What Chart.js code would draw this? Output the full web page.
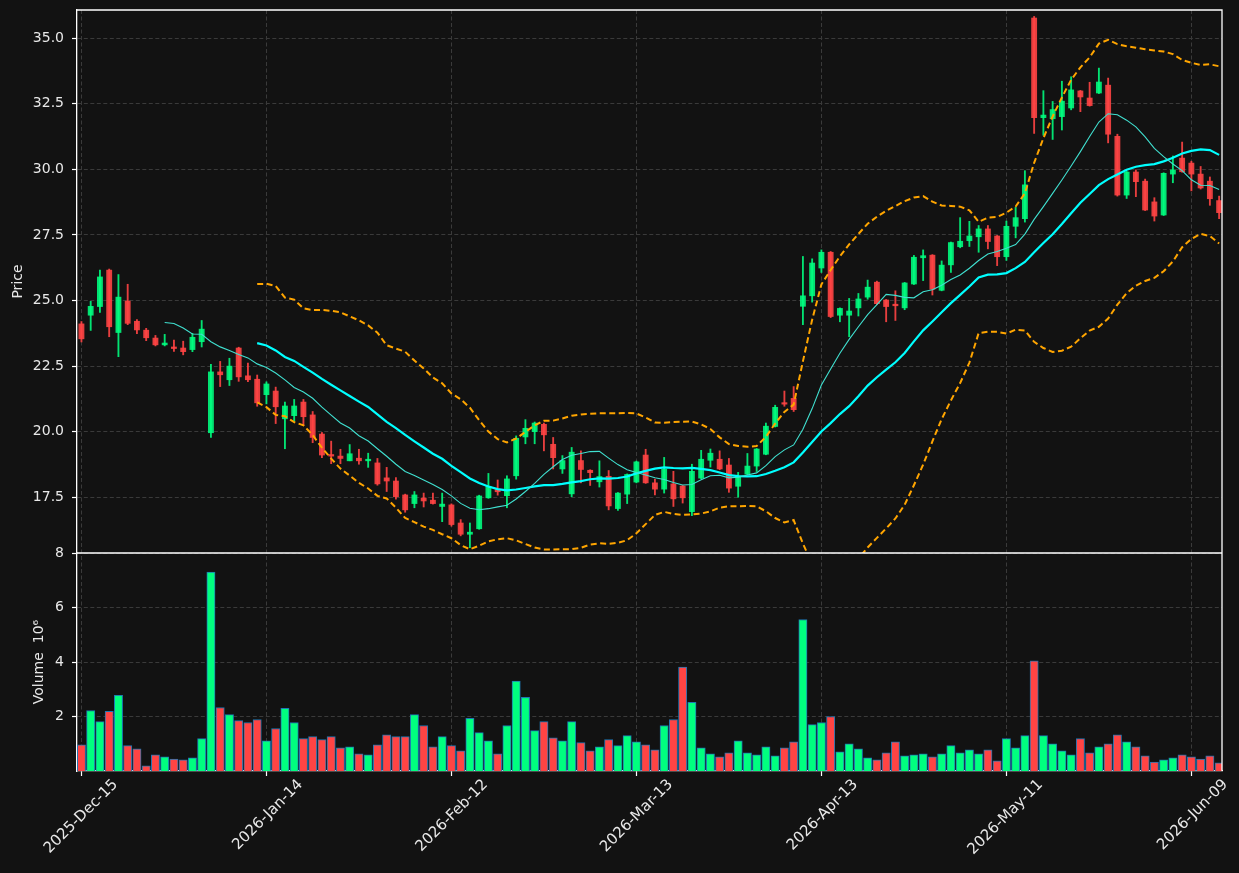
<!DOCTYPE html>
<html>
<head>
<meta charset="utf-8">
<script src="https://cdn.jsdelivr.net/npm/chart.js@4.4.1/dist/chart.umd.min.js"></script>
<style>
html,body{margin:0;padding:0;background:#121212;}
#wrap{width:1239px;height:873px;}
</style>
</head>
<body>
<div id="wrap"><canvas id="c" width="1239" height="873"></canvas></div>
<script>
// ---- data (trading days) ----
const dates = [
'2025-Dec-15','2025-Dec-16','2025-Dec-17','2025-Dec-18','2025-Dec-19','2025-Dec-22','2025-Dec-23','2025-Dec-24','2025-Dec-26','2025-Dec-29',
'2025-Dec-30','2025-Dec-31','2026-Jan-02','2026-Jan-05','2026-Jan-06','2026-Jan-07','2026-Jan-08','2026-Jan-09','2026-Jan-12','2026-Jan-13',
'2026-Jan-14','2026-Jan-15','2026-Jan-16','2026-Jan-20','2026-Jan-21','2026-Jan-22','2026-Jan-23','2026-Jan-26','2026-Jan-27','2026-Jan-28',
'2026-Jan-29','2026-Jan-30','2026-Feb-02','2026-Feb-03','2026-Feb-04','2026-Feb-05','2026-Feb-06','2026-Feb-09','2026-Feb-10','2026-Feb-11',
'2026-Feb-12','2026-Feb-13','2026-Feb-17','2026-Feb-18','2026-Feb-19','2026-Feb-20','2026-Feb-23','2026-Feb-24','2026-Feb-25','2026-Feb-26',
'2026-Feb-27','2026-Mar-02','2026-Mar-03','2026-Mar-04','2026-Mar-05','2026-Mar-06','2026-Mar-09','2026-Mar-10','2026-Mar-11','2026-Mar-12',
'2026-Mar-13','2026-Mar-16','2026-Mar-17','2026-Mar-18','2026-Mar-19','2026-Mar-20','2026-Mar-23','2026-Mar-24','2026-Mar-25','2026-Mar-26',
'2026-Mar-27','2026-Mar-30','2026-Mar-31','2026-Apr-01','2026-Apr-02','2026-Apr-06','2026-Apr-07','2026-Apr-08','2026-Apr-09','2026-Apr-10',
'2026-Apr-13','2026-Apr-14','2026-Apr-15','2026-Apr-16','2026-Apr-17','2026-Apr-20','2026-Apr-21','2026-Apr-22','2026-Apr-23','2026-Apr-24',
'2026-Apr-27','2026-Apr-28','2026-Apr-29','2026-Apr-30','2026-May-01','2026-May-04','2026-May-05','2026-May-06','2026-May-07','2026-May-08',
'2026-May-11','2026-May-12','2026-May-13','2026-May-14','2026-May-15','2026-May-18','2026-May-19','2026-May-20','2026-May-21','2026-May-22',
'2026-May-26','2026-May-27','2026-May-28','2026-May-29','2026-Jun-01','2026-Jun-02','2026-Jun-03','2026-Jun-04','2026-Jun-05','2026-Jun-08',
'2026-Jun-09','2026-Jun-10','2026-Jun-11','2026-Jun-12'
];
const opens = [
24.11,24.44,24.77,26.16,23.78,24.98,24.21,23.87,23.57,23.31,
23.23,23.19,23.13,23.43,19.96,22.28,21.98,23.19,22.13,22.00,
21.41,21.55,20.49,20.61,21.13,20.64,19.91,19.13,19.07,18.89,
18.99,18.89,18.81,18.24,18.12,17.59,17.26,17.47,17.39,17.15,
17.21,16.52,16.09,16.30,17.48,17.79,17.56,18.32,19.80,20.00,
20.28,19.52,18.58,17.63,18.90,18.53,18.09,18.30,17.07,17.62,
18.08,19.11,18.05,17.81,18.01,17.93,16.95,18.23,18.91,18.95,
18.73,17.92,18.38,18.69,19.14,20.20,21.09,21.27,24.78,25.18,
26.24,26.84,24.44,24.44,24.72,25.13,25.70,25.02,24.86,24.72,
25.63,26.63,26.73,25.39,26.36,27.05,27.28,27.43,27.73,27.46,
26.67,27.83,28.12,35.77,31.97,31.93,32.01,32.34,32.99,32.72,
32.91,33.21,31.26,29.02,29.90,29.55,28.76,28.26,29.82,30.43,
30.24,29.82,29.55,28.81
];
const highs = [
24.20,24.97,26.16,26.20,25.99,25.62,24.27,23.94,23.67,23.71,
23.49,23.45,23.75,24.24,22.57,22.68,22.80,23.22,22.62,22.16,
21.90,21.70,21.13,21.23,21.23,20.77,19.97,19.64,19.33,19.51,
19.33,19.18,18.98,18.64,18.25,17.62,17.72,17.66,17.66,17.66,
17.25,16.65,16.52,17.58,18.41,18.16,18.32,19.84,20.46,20.37,
20.33,19.78,19.09,19.40,19.27,18.55,18.89,18.52,17.68,18.39,
18.88,19.33,18.19,19.02,18.49,17.95,18.76,19.29,19.34,19.27,
18.98,18.45,19.17,19.36,20.33,21.01,21.55,21.72,26.68,26.59,
26.93,26.87,24.72,25.08,25.27,25.78,25.74,25.04,25.37,25.69,
26.72,26.93,26.75,26.51,27.23,28.16,28.02,27.86,27.86,27.48,
28.03,28.55,29.95,35.83,33.00,32.59,33.36,33.53,33.01,33.32,
33.86,33.48,31.34,29.92,29.98,29.63,28.92,29.87,30.51,31.04,
30.31,30.11,29.71,28.98
];
const lows = [
23.42,23.86,24.55,23.62,22.86,24.08,23.74,23.47,23.27,23.27,
23.06,22.93,23.05,23.23,19.78,21.72,21.76,21.92,21.91,20.97,
21.06,20.31,19.35,20.40,20.24,19.58,19.01,18.78,18.78,18.89,
18.76,18.64,17.96,17.72,17.43,16.93,17.10,17.13,17.24,16.57,
16.40,16.03,15.58,16.28,17.46,17.58,17.10,18.19,19.54,19.54,
19.27,18.58,18.41,17.52,18.05,17.95,17.89,17.02,17.00,17.26,
18.05,18.03,17.59,17.66,17.15,17.28,16.80,18.21,18.65,18.55,
17.69,17.50,18.36,18.48,19.12,20.18,20.97,20.77,24.08,24.94,
26.07,24.35,24.19,23.62,24.41,25.05,24.84,24.19,24.24,24.65,
25.61,25.76,25.21,25.37,26.07,27.01,27.06,26.84,26.97,26.33,
26.53,27.39,27.99,31.37,31.30,31.14,31.50,32.27,32.20,32.41,
32.89,31.01,28.98,28.89,28.96,28.43,28.03,28.24,29.49,29.89,
29.18,29.25,28.63,28.12
];
const closes = [
23.54,24.78,25.90,24.00,25.13,24.13,23.88,23.58,23.31,23.38,
23.17,23.05,23.60,23.91,22.28,22.17,22.50,22.09,21.98,21.10,
21.82,20.95,20.98,20.98,20.57,19.78,19.11,19.07,18.98,19.16,
18.89,18.95,18.01,18.12,17.52,17.02,17.59,17.36,17.26,17.24,
16.46,16.09,16.17,17.55,17.92,17.71,18.20,19.75,20.13,20.33,
19.88,19.01,18.90,19.22,18.56,18.44,18.29,17.17,17.66,18.37,
18.85,18.05,17.81,18.57,17.44,17.48,18.49,18.95,19.18,18.58,
17.85,18.29,18.69,19.34,20.21,20.93,21.05,20.84,25.18,26.43,
26.84,24.39,24.70,24.60,25.06,25.51,24.88,24.77,24.80,25.67,
26.65,26.71,25.43,26.35,27.21,27.26,27.46,27.73,27.25,26.67,
27.83,28.16,29.41,31.97,32.07,32.28,32.60,33.03,32.76,32.43,
33.33,31.34,29.02,29.90,29.53,28.45,28.22,29.85,29.98,29.91,
29.82,29.29,28.88,28.35
];
// volume in millions (x10^6)
const volumes = [
0.96,2.22,1.81,2.19,2.78,0.93,0.81,0.19,0.59,0.52,
0.44,0.41,0.48,1.19,7.30,2.33,2.07,1.85,1.78,1.89,
1.11,1.56,2.30,1.78,1.19,1.26,1.15,1.26,0.85,0.89,
0.63,0.59,0.96,1.33,1.26,1.26,2.07,1.67,0.89,1.26,
0.93,0.74,1.93,1.41,1.11,0.63,1.67,3.30,2.70,1.48,
1.81,1.22,1.11,1.81,1.04,0.74,0.89,1.15,0.93,1.30,
1.07,0.96,0.78,1.67,1.89,3.81,2.52,0.85,0.63,0.52,
0.67,1.11,0.67,0.59,0.89,0.56,0.85,1.07,5.56,1.70,
1.78,2.00,0.70,1.00,0.81,0.48,0.41,0.67,1.07,0.56,
0.59,0.63,0.52,0.63,0.93,0.67,0.78,0.63,0.78,0.37,
1.19,0.85,1.30,4.04,1.30,1.00,0.74,0.59,1.19,0.67,
0.89,1.00,1.33,1.07,0.89,0.56,0.33,0.41,0.48,0.59,
0.52,0.44,0.56,0.30
];
const xTickIndex = [0, 20, 40, 60, 80, 100, 120];
const priceTicks = [17.5, 20.0, 22.5, 25.0, 27.5, 30.0, 32.5, 35.0];
const volumeTicks = [2, 4, 6, 8];
const maShort = 10, maLong = 20, bbK = 2;

// ---- derived series ----
const idx = closes.map((_, i) => i);
function sma(arr, n) {
  return arr.map((_, i) => {
    if (i < n - 1) return null;
    let s = 0; for (let k = i - n + 1; k <= i; k++) s += arr[k];
    return s / n;
  });
}
function rollStd(arr, n) {
  const m = sma(arr, n);
  return arr.map((_, i) => {
    if (i < n - 1) return null;
    let s = 0; for (let k = i - n + 1; k <= i; k++) s += (arr[k] - m[i]) ** 2;
    return Math.sqrt(s / n);
  });
}
const ma10 = sma(closes, maShort);
const ma20 = sma(closes, maLong);
const sd20 = rollStd(closes, maLong);
const bbUp = ma20.map((m, i) => m === null ? null : m + bbK * sd20[i]);
const bbLo = ma20.map((m, i) => m === null ? null : m - bbK * sd20[i]);

const UP = '#00ff7f', DOWN = '#ff4444';
const UPc = 'rgba(0,255,127,0.88)', DOWNc = 'rgba(255,68,68,0.9)';
const isUp = idx.map(i => closes[i] >= opens[i]);
const candleCol = isUp.map(u => u ? UPc : DOWNc);
const volCol = isUp.map(u => u ? UP : DOWN);

const pts = arr => idx.filter(i => arr[i] !== null).map(i => ({x: i, y: arr[i]}));

const TEXT = '#e8e8e8';
const GRID = '#3a3a3a';
const FONT = {family: 'DejaVu Sans', size: 14};
const XFONT = {family: 'DejaVu Sans', size: 15};

const noPad = s => { s.paddingTop = 0; s.paddingBottom = 0; };

const framePlugin = {
  id: 'frame',
  beforeDraw(chart) {
    const ctx = chart.ctx;
    ctx.save(); ctx.fillStyle = '#121212'; ctx.fillRect(0, 0, chart.width, chart.height); ctx.restore();
  },
  afterDraw(chart) {
    const ctx = chart.ctx, a = chart.chartArea, p = chart.scales.price;
    ctx.save();
    ctx.strokeStyle = '#ffffff'; ctx.lineWidth = 1.3;
    ctx.beginPath();
    ctx.moveTo(a.left, a.top); ctx.lineTo(a.right, a.top); ctx.lineTo(a.right, a.bottom);
    ctx.moveTo(a.left, p.bottom); ctx.lineTo(a.right, p.bottom);
    ctx.stroke();
    ctx.restore();
  }
};

new Chart(document.getElementById('c'), {
  type: 'bar',
  data: {
    datasets: [
      { type: 'line', label: 'MA10', data: pts(ma10), yAxisID: 'price', borderColor: '#40e0d0', borderWidth: 1.1, pointRadius: 0, tension: 0, order: 1 },
      { type: 'line', label: 'MA20', data: pts(ma20), yAxisID: 'price', borderColor: '#00ffff', borderWidth: 2.2, pointRadius: 0, tension: 0, order: 1 },
      { type: 'line', label: 'BB upper', data: pts(bbUp), yAxisID: 'price', borderColor: '#ffa500', borderWidth: 2, borderDash: [6, 3.5], pointRadius: 0, tension: 0, order: 1 },
      { type: 'line', label: 'BB lower', data: pts(bbLo), yAxisID: 'price', borderColor: '#ffa500', borderWidth: 2, borderDash: [6, 3.5], pointRadius: 0, tension: 0, order: 1 },
      { label: 'wick', data: idx.map(i => ({x: i, y: [lows[i], highs[i]]})), yAxisID: 'price', backgroundColor: candleCol, barThickness: 1.2, grouped: false, order: 3 },
      { label: 'body', data: idx.map(i => ({x: i, y: [opens[i], closes[i]]})), yAxisID: 'price', backgroundColor: candleCol, barThickness: 5.2, minBarLength: 1.5, grouped: false, order: 2 },
      { label: 'Volume', data: idx.map(i => ({x: i, y: volumes[i]})), yAxisID: 'vol', backgroundColor: volCol, borderColor: '#1f77b4', borderWidth: 1, barThickness: 8.3, grouped: false, order: 2 }
    ]
  },
  options: {
    responsive: false,
    animation: false,
    events: [],
    layout: { padding: { left: 0, top: 10, right: 17, bottom: 0 } },
    plugins: { legend: { display: false }, tooltip: { enabled: false } },
    scales: {
      x: {
        type: 'linear', min: -0.48, max: 123.31, offset: false,
        afterBuildTicks: s => { s.ticks = xTickIndex.map(v => ({value: v})); },
        afterFit: s => { s.height = 102; s.paddingLeft = 0; s.paddingRight = 0; },
        ticks: { autoSkip: false, minRotation: 45, maxRotation: 45, color: TEXT, font: XFONT, padding: 0, labelOffset: 34,
                 callback: v => dates[v] },
        grid: { color: GRID, lineWidth: 1, offset: false, drawTicks: true, tickLength: 5, tickColor: '#ffffff', tickWidth: 1.2 },
        border: { color: '#ffffff', width: 1.3, dash: [4, 2.5] }
      },
      vol: {
        type: 'linear', position: 'left', stack: 'panes', stackWeight: 218, min: 0, max: 8,
        afterBuildTicks: s => { s.ticks = volumeTicks.map(v => ({value: v})); },
        afterFit: s => { s.width = 77; noPad(s); },
        ticks: { color: TEXT, font: FONT, padding: 8, callback: v => String(v) },
        grid: { color: GRID, lineWidth: 1, drawTicks: true, tickLength: 5, tickColor: '#ffffff', tickWidth: 1.2 },
        border: { color: '#ffffff', width: 1.3, dash: [4, 2.5] },
        title: { display: true, text: 'Volume  10⁶', color: TEXT, font: FONT, padding: { top: 31, bottom: 0 } }
      },
      price: {
        type: 'linear', position: 'left', stack: 'panes', stackWeight: 543, min: 15.376, max: 36.075,
        afterBuildTicks: s => { s.ticks = priceTicks.map(v => ({value: v})); },
        afterFit: s => { s.width = 77; noPad(s); },
        ticks: { color: TEXT, font: FONT, padding: 8, callback: v => Number(v).toFixed(1) },
        grid: { color: GRID, lineWidth: 1, drawTicks: true, tickLength: 5, tickColor: '#ffffff', tickWidth: 1.2 },
        border: { color: '#ffffff', width: 1.3, dash: [4, 2.5] },
        title: { display: true, text: 'Price', color: TEXT, font: FONT, padding: { top: 10, bottom: 0 } }
      }
    }
  },
  plugins: [framePlugin]
});
</script>
</body>
</html>
